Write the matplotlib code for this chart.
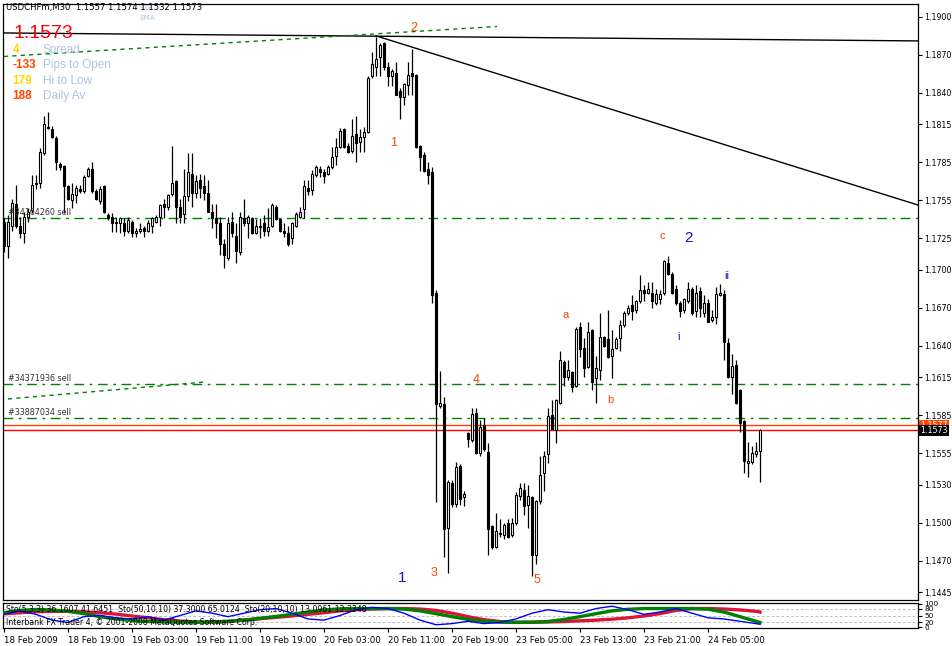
import numpy as np
import matplotlib
matplotlib.use("Agg")
import matplotlib.pyplot as plt

# USDCHFm M30 candles, prices in points (x 1e-4)
OPEN = [
    11738, 11719, 11735, 11752, 11735, 11729, 11742, 11747, 11769, 11769,
    11792, 11813, 11811, 11804, 11784, 11782, 11766, 11755, 11759, 11764,
    11762, 11774, 11780, 11762, 11754, 11766, 11743, 11742, 11738, 11737,
    11737, 11731, 11738, 11729, 11731, 11733, 11731, 11735, 11738, 11742,
    11752, 11750, 11760, 11770, 11750, 11744, 11758, 11776, 11761, 11771,
    11766, 11761, 11746, 11741, 11737, 11720, 11709, 11738, 11727, 11714,
    11741, 11737, 11741, 11729, 11735, 11737, 11731, 11735, 11750, 11740,
    11731, 11729, 11725, 11735, 11742, 11748, 11765, 11763, 11775, 11780,
    11777, 11776, 11781, 11790, 11797, 11811, 11798, 11794, 11807, 11801,
    11805, 11809, 11853, 11860, 11868, 11879, 11860, 11853, 11856, 11841,
    11837, 11846, 11856, 11854, 11798, 11791, 11780, 11777, 11682, 11592,
    11594, 11496, 11531, 11515, 11545, 11520, 11571, 11565, 11587, 11555,
    11577, 11556, 11497, 11481, 11492, 11490, 11500, 11490, 11500, 11521,
    11526, 11514, 11520, 11474, 11517, 11539, 11554, 11585, 11573, 11595,
    11627, 11615, 11619, 11608, 11655, 11638, 11623, 11652, 11614, 11621,
    11647, 11645, 11632, 11638, 11646, 11656, 11666, 11672, 11668, 11675,
    11684, 11682, 11682, 11674, 11677, 11682, 11705, 11697, 11685, 11674,
    11668, 11675, 11685, 11667, 11683, 11666, 11674, 11660, 11663, 11680,
    11681, 11642, 11615, 11625, 11605, 11580, 11547, 11548, 11554, 11557,
]
HIGH = [
    11741, 11743, 11756, 11767, 11742, 11746, 11749, 11775, 11775, 11796,
    11822, 11825, 11814, 11806, 11785, 11783, 11767, 11769, 11767, 11767,
    11775, 11781, 11785, 11764, 11766, 11767, 11745, 11745, 11742, 11742,
    11741, 11742, 11739, 11733, 11737, 11735, 11739, 11742, 11743, 11752,
    11756, 11760, 11798, 11771, 11756, 11780, 11792, 11792, 11775, 11776,
    11775, 11771, 11752, 11752, 11742, 11724, 11742, 11746, 11737, 11746,
    11756, 11743, 11742, 11740, 11741, 11743, 11749, 11753, 11751, 11741,
    11737, 11735, 11738, 11746, 11750, 11771, 11771, 11779, 11783, 11782,
    11780, 11783, 11797, 11804, 11812, 11812, 11800, 11819, 11822, 11811,
    11813, 11853, 11872, 11884, 11879, 11880, 11864, 11859, 11864, 11844,
    11848, 11864, 11875, 11855, 11799, 11793, 11785, 11781, 11684, 11620,
    11599, 11534, 11534, 11548, 11546, 11525, 11572, 11591, 11591, 11581,
    11583, 11563, 11498, 11508, 11503, 11500, 11503, 11504, 11524, 11531,
    11531, 11530, 11521, 11518, 11553, 11557, 11591, 11597, 11598, 11636,
    11629, 11629, 11620, 11655, 11659, 11646, 11659, 11653, 11632, 11666,
    11648, 11668, 11652, 11647, 11660, 11667, 11672, 11680, 11676, 11696,
    11688, 11690, 11690, 11685, 11684, 11708, 11711, 11698, 11688, 11675,
    11678, 11690, 11686, 11688, 11686, 11680, 11677, 11668, 11686, 11689,
    11684, 11646, 11633, 11629, 11606, 11581, 11564, 11561, 11564, 11574,
]
LOW = [
    11714, 11709, 11731, 11733, 11725, 11721, 11738, 11745, 11764, 11765,
    11791, 11811, 11804, 11779, 11779, 11745, 11755, 11749, 11753, 11761,
    11761, 11773, 11761, 11755, 11752, 11745, 11739, 11730, 11730, 11729,
    11727, 11729, 11726, 11726, 11729, 11726, 11730, 11729, 11737, 11735,
    11741, 11747, 11758, 11737, 11737, 11737, 11754, 11750, 11757, 11757,
    11755, 11746, 11733, 11725, 11712, 11701, 11708, 11726, 11705, 11712,
    11735, 11725, 11728, 11728, 11725, 11727, 11727, 11734, 11739, 11730,
    11726, 11719, 11720, 11734, 11741, 11741, 11759, 11759, 11773, 11773,
    11769, 11775, 11780, 11783, 11796, 11796, 11792, 11792, 11785, 11793,
    11793, 11808, 11852, 11853, 11853, 11858, 11845, 11845, 11838, 11819,
    11830, 11838, 11838, 11796, 11778, 11777, 11768, 11674, 11516, 11591,
    11473, 11460, 11512, 11512, 11514, 11513, 11560, 11564, 11554, 11553,
    11557, 11474, 11479, 11480, 11489, 11487, 11488, 11489, 11498, 11518,
    11506, 11496, 11458, 11467, 11515, 11525, 11547, 11574, 11563, 11594,
    11608, 11613, 11603, 11607, 11631, 11615, 11622, 11605, 11595, 11613,
    11639, 11630, 11614, 11637, 11636, 11655, 11664, 11660, 11666, 11674,
    11675, 11681, 11670, 11672, 11673, 11680, 11696, 11681, 11672, 11663,
    11666, 11674, 11664, 11663, 11663, 11663, 11659, 11659, 11657, 11679,
    11629, 11614, 11602, 11594, 11572, 11539, 11536, 11546, 11552, 11532,
]
CLOSE = [
    11719, 11738, 11753, 11735, 11729, 11742, 11746, 11767, 11768, 11793,
    11815, 11812, 11805, 11785, 11781, 11766, 11756, 11760, 11765, 11762,
    11773, 11780, 11762, 11756, 11764, 11746, 11741, 11737, 11737, 11741,
    11731, 11739, 11729, 11731, 11732, 11731, 11737, 11741, 11742, 11751,
    11750, 11759, 11769, 11750, 11742, 11758, 11777, 11761, 11770, 11765,
    11761, 11746, 11741, 11737, 11720, 11712, 11737, 11729, 11715, 11742,
    11737, 11742, 11729, 11735, 11734, 11731, 11734, 11751, 11740, 11731,
    11729, 11720, 11737, 11744, 11746, 11766, 11762, 11776, 11781, 11777,
    11774, 11781, 11789, 11797, 11810, 11797, 11793, 11806, 11800, 11805,
    11809, 11852, 11863, 11867, 11878, 11860, 11853, 11857, 11838, 11837,
    11847, 11854, 11853, 11797, 11789, 11778, 11775, 11680, 11594, 11595,
    11495, 11532, 11515, 11544, 11519, 11523, 11566, 11586, 11555, 11576,
    11558, 11495, 11481, 11493, 11491, 11498, 11489, 11500, 11522, 11527,
    11513, 11521, 11474, 11517, 11538, 11553, 11584, 11574, 11597, 11629,
    11615, 11621, 11607, 11653, 11637, 11622, 11651, 11611, 11622, 11647,
    11640, 11631, 11637, 11645, 11656, 11666, 11670, 11667, 11675, 11684,
    11682, 11685, 11675, 11681, 11681, 11707, 11697, 11682, 11674, 11667,
    11677, 11685, 11666, 11682, 11670, 11674, 11659, 11663, 11681, 11682,
    11643, 11615, 11624, 11595, 11579, 11549, 11549, 11555, 11557, 11573,
]

TIME_LABELS = ["18 Feb 2009", "18 Feb 19:00", "19 Feb 03:00", "19 Feb 11:00",
               "19 Feb 19:00", "20 Feb 03:00", "20 Feb 11:00", "20 Feb 19:00",
               "23 Feb 05:00", "23 Feb 13:00", "23 Feb 21:00", "24 Feb 05:00"]
PRICE_TICKS = [1.1900, 1.1870, 1.1840, 1.1815, 1.1785, 1.1755, 1.1725, 1.1700,
               1.1670, 1.1640, 1.1615, 1.1585, 1.1555, 1.1530, 1.1500, 1.1470,
               1.1445]

# order lines (price, label)
ORDERS = [(1.1741, "#34164260 sell"), (1.1610, "#34371936 sell"),
          (1.1583, "#33887034 sell")]
ASK, BID = 1.1577, 1.1573

# trend lines: (bar, price) pairs
TL_FLAT = [(0, 1.18873), (228.5, 1.18810)]
TL_GREEN_TOP = [(0, 1.18687), (123.25, 1.18924)]
TL_GREEN_LOW = [(1, 1.15978), (50.25, 1.16112)]
TL_DOWN = [(93, 1.18850), (228.5, 1.17512)]

# wave counts: (bar, price, text, colour, size)
WAVES = [
    (102.5, 1.18915, "2", "#ff4500", 9), (97.5, 1.18005, "1", "#ff4500", 9),
    (107.5, 1.14600, "3", "#ff4500", 9), (118.0, 1.16130, "4", "#ff4500", 9),
    (133.2, 1.14545, "5", "#ff4500", 9), (140.5, 1.16645, "a", "#ff4500", 8),
    (151.5, 1.15970, "b", "#ff4500", 8), (164.5, 1.17270, "c", "#ff4500", 8),
    (99.5, 1.14560, "1", "#1010e0", 11), (171.2, 1.17250, "2", "#1010e0", 11),
    (168.5, 1.16470, "i", "#1010e0", 8), (180.7, 1.16950, "ii", "#1010e0", 8),
]

# info block: (number, colour, caption)
INFO = [("4", "#ffd700", "Spread"), ("-133", "#ff4500", "Pips to Open"),
        ("179", "#ffd700", "Hi to Low"), ("188", "#ff4500", "Daily Av")]

# stochastic oscillators sampled every 4 bars
STO_BARS = list(range(0, 190, 4)) + [189]
STO_FAST = [55, 70, 55, 30, 20, 45, 50, 40, 35, 45, 30, 50, 70, 60, 45, 60,
            75, 80, 60, 35, 30, 50, 75, 85, 80, 60, 30, 10, 15, 25, 15, 20,
            35, 60, 75, 65, 60, 80, 90, 75, 55, 65, 80, 60, 40, 35, 25, 15, 12]
STO_50 = [57, 62, 66, 68, 68, 66, 62, 56, 48, 40, 32, 26, 22, 21, 24, 30,
          36, 42, 48, 55, 62, 70, 75, 78, 80, 80, 78, 72, 60, 45, 32, 24,
          21, 21, 22, 24, 27, 30, 34, 40, 48, 58, 72, 80, 80, 78, 74, 68, 65]
STO_20 = [62, 72, 76, 74, 68, 58, 45, 35, 28, 24, 22, 21, 21, 22, 25, 30,
          38, 46, 55, 65, 74, 79, 80, 80, 80, 78, 70, 58, 45, 33, 25, 21,
          20, 21, 24, 33, 45, 58, 70, 77, 80, 80, 80, 80, 77, 65, 45, 25, 20]

W, H = 953, 646
fig = plt.figure(figsize=(W / 100, H / 100), dpi=100)
fig.patch.set_facecolor("white")

def frac(x0, y0, x1, y1):
    return [x0 / W, 1 - y1 / H, (x1 - x0) / W, (y1 - y0) / H]

ax = fig.add_axes(frac(3, 4, 918, 600))
ax2 = fig.add_axes(frac(3, 603, 918, 628))

o = np.array(OPEN) / 1e4
h = np.array(HIGH) / 1e4
l = np.array(LOW) / 1e4
c = np.array(CLOSE) / 1e4
idx = np.arange(len(o))
up = c >= o

ax.vlines(idx, l, h, color="black", lw=0.9, zorder=3)
body = np.maximum(np.abs(c - o), 0.00004)
ax.bar(idx, body, 0.62, bottom=np.minimum(o, c),
       color=np.where(up, "white", "black"), edgecolor="black", lw=0.8, zorder=4)

ax.set_xlim(-0.25, 228.5)
ax.set_ylim(1.14388, 1.19102)

for price, label in ORDERS:
    ax.axhline(price, color="#008000", lw=1.0, dashes=(7, 4, 2, 4), zorder=2)
    ax.text(1, price + 0.00004, label, fontsize=5.8, color="#333333",
            va="bottom", ha="left", zorder=5)
ax.axhline(ASK, color="#ff4500", lw=1.0, zorder=2)
ax.axhline(BID, color="red", lw=1.0, zorder=2)

for pts, col, style in [(TL_FLAT, "black", "-"), (TL_DOWN, "black", "-"),
                        (TL_GREEN_TOP, "#008000", "--"), (TL_GREEN_LOW, "#008000", "--")]:
    (x0, y0), (x1, y1) = pts
    ax.plot([x0, x1], [y0, y1], color=col, lw=1.0, ls=style, zorder=2,
            dashes=(3, 3) if style == "--" else (None, None))

for bx, py, txt, col, fs in WAVES:
    ax.text(bx, py, txt, color=col, fontsize=fs, family="Liberation Sans",
            ha="center", va="center", zorder=6)

# info block top-left (axes fractions)
ax.text(0.0035, 0.9935, "USDCHFm,M30  1.1557 1.1574 1.1532 1.1573", fontsize=6.1,
        family="DejaVu Sans", va="center", ha="left", zorder=6, transform=ax.transAxes)
ax.text(0.1490, 0.9935, "STR", fontsize=5.2, color="#b0c4de", va="center",
        ha="left", transform=ax.transAxes)
ax.text(0.1490, 0.9770, "EMA", fontsize=5.2, color="#b0c4de", va="center",
        ha="left", transform=ax.transAxes)
ax.text(0.0115, 0.9500, "1.1573", fontsize=14, color="red", family="Liberation Sans",
        va="center", ha="left", zorder=6, transform=ax.transAxes)
for k, (num, col, name) in enumerate(INFO):
    yy = 0.9228 - k * 0.0256
    ax.text(0.0105, yy, num, fontsize=8.5, color=col, weight="bold",
            family="Liberation Sans", va="center", ha="left", zorder=6,
            transform=ax.transAxes)
    ax.text(0.0437, yy, name, fontsize=8.5, color="#b0c4de",
            family="Liberation Sans", va="center", ha="left", zorder=6,
            transform=ax.transAxes)

# right price axis
ax.yaxis.tick_right()
ax.set_yticks(PRICE_TICKS)
ax.set_yticklabels([f"{p:.4f}" for p in PRICE_TICKS])
ax.tick_params(axis="y", length=3, width=0.8, pad=1.5, labelsize=5.7,
               direction="out")
ax.set_xticks([])
for s in ax.spines.values():
    s.set_linewidth(0.9)

for price, txt, bg in [(ASK, "1.1577", "#ff4500"), (BID, "1.1573", "black")]:
    ax.text(1.0025, price, txt, transform=ax.get_yaxis_transform(), fontsize=5.7,
            color="white", va="center", ha="left", clip_on=False,
            bbox=dict(boxstyle="square,pad=0.15", fc=bg, ec="none"))

# oscillator panel
for lv in (20, 50, 80):
    ax2.axhline(lv, color="#c0c0c0", lw=0.7, ls="--", dashes=(3, 2))
ax2.plot(STO_BARS, STO_50, color="#dc143c", lw=2.4, zorder=3)
ax2.plot(STO_BARS, STO_20, color="#008000", lw=2.4, zorder=4)
ax2.plot(STO_BARS, STO_FAST, color="#0000ff", lw=1.0, zorder=5)
ax2.set_xlim(-0.25, 228.5)
ax2.set_ylim(-4, 104)
ax2.yaxis.tick_right()
ax2.set_yticks([100, 80, 50, 20, 0])
ax2.set_yticklabels(["100", "80", "50", "20", "0"])
ax2.tick_params(axis="y", length=3, width=0.8, pad=1.5, labelsize=5.3)
ax2.text(0.5, 96, "Sto(5,3,3) 36.1607 41.6451  Sto(50,10,10) 37.3000 65.0124  "
         "Sto(20,10,10) 13.0961 12.3348", fontsize=5.6, va="top", ha="left", zorder=6)
ax2.text(0.5, 40, "Interbank FX Trader 4, \u00a9 2001-2008 MetaQuotes Software Corp.",
         fontsize=5.6, va="top", ha="left", zorder=6)
ax2.set_xticks(np.arange(0, 190, 16))
ax2.set_xticklabels(TIME_LABELS, ha="left")
ax2.tick_params(axis="x", length=3, width=0.8, pad=3, labelsize=6.2)
for s in ax2.spines.values():
    s.set_linewidth(0.9)

fig.savefig("out.png", dpi=100)
